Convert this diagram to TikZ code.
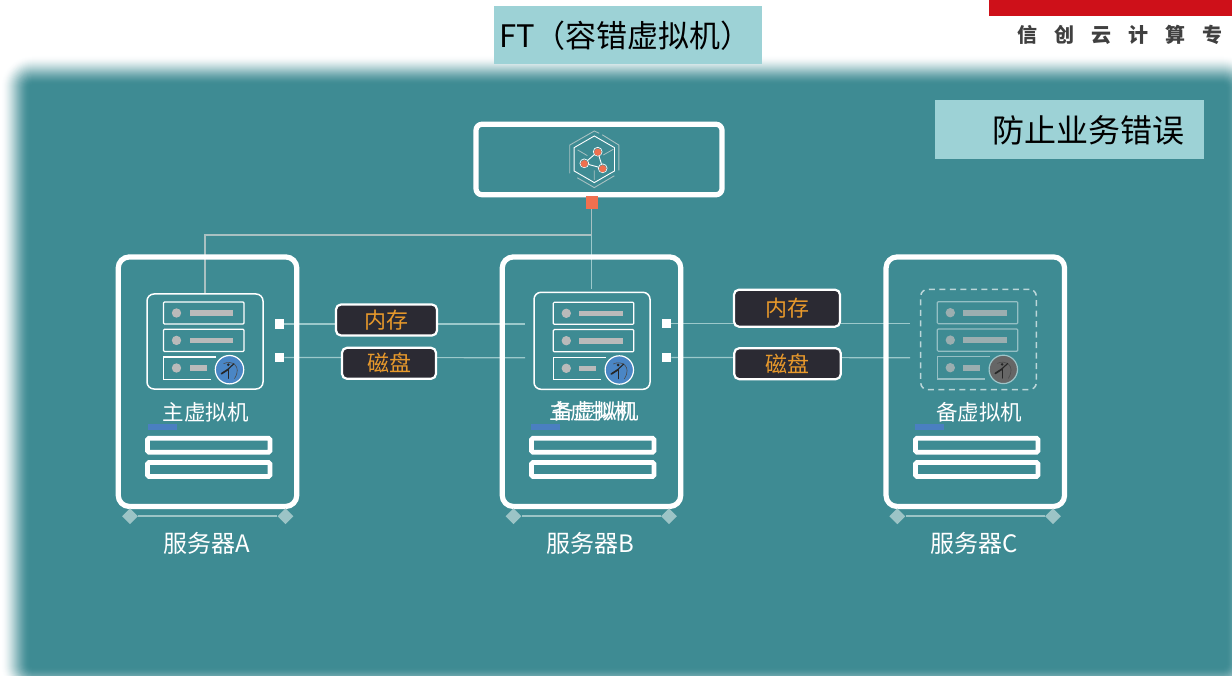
\documentclass[tikz,border=0pt]{standalone}
\usepackage{fontspec}
\setmainfont{Noto Sans CJK SC}
\usetikzlibrary{shapes.geometric}
\pgfdeclarelayer{backlayer}
\pgfdeclarelayer{connlayer}
\pgfsetlayers{backlayer,connlayer,main}
\definecolor{teal0}{HTML}{3E8B93}
\definecolor{capbox}{HTML}{9DD2D6}
\definecolor{linec}{HTML}{9CC9CB}
\definecolor{greyline}{HTML}{A9C1C2}
\definecolor{darkbox}{HTML}{2B2A33}
\definecolor{orangetxt}{HTML}{E8992B}
\definecolor{hubred}{HTML}{F0704F}
\definecolor{barblue}{HTML}{4A7FC1}
\definecolor{rowgrey}{HTML}{BABABA}
\definecolor{iconblue}{HTML}{4A86C5}
\definecolor{railc}{HTML}{9CC4C6}
\newcommand\fs[1]{\fontsize{#1}{#1}\selectfont}
\tikzset{
  x=1pt,y=-1pt,
  caption/.style={fill=capbox,inner sep=0,text=black},
  serverbox/.style={draw=white,line width=5.2pt,rounded corners=11pt,minimum width=178.5pt,minimum height=249.5pt,inner sep=0},
  vmbox/.style={draw=white,line width=1.5pt,rounded corners=7pt,inner sep=0},
  hubbox/.style={draw=white,line width=5.2pt,rounded corners=6pt,inner sep=0,minimum width=246pt,minimum height=70.5pt},
  storebox/.style={draw=white,line width=2.2pt,fill=darkbox,rounded corners=5pt,inner sep=0,text=orangetxt,font=\fs{22}},
  whitesq/.style={fill=white,inner sep=0,minimum size=9.5pt},
  conn/.style={draw=linec,line width=1.2pt},
  vmlabel/.style={text=white,inner sep=0,font=\fs{21.5}},
  srvlabel/.style={text=white,inner sep=0,font=\fs{24}},
  slot/.style={draw=white,line width=4.8pt,rounded corners=1.5pt,minimum width=122.5pt,minimum height=14pt,inner sep=0},
  tick/.style={fill=barblue,inner sep=0,minimum width=29pt,minimum height=6pt},
  railend/.style={diamond,aspect=1,fill=railc,inner sep=0,minimum size=16pt},
}
% rows and archer badge, origin = top-left corner of the first row
\newcommand\vmrows[2]{%
  \begin{scope}[shift={#1}]
    \draw[rowc,line width=1.2pt,rounded corners=1pt] (0,0) rectangle (80.5,22);
    \draw[rowc,line width=1.2pt,rounded corners=1pt] (0,27.3) rectangle (80.5,49.5);
    \draw[rowc,line width=1.2pt] (52.5,55) -- (0,55) -- (0,77.3) -- (47.5,77.3);
    \fill[dotc] (13,11) circle (4.7) (13,38.4) circle (4.7) (13,66) circle (4.7);
    \fill[dotc] (26,8.3) rectangle (69.5,14);
    \fill[dotc] (26,35.6) rectangle (69.5,41.3);
    \fill[dotc] (26,63.3) rectangle (43,69);
    \begin{scope}[shift={(66,67.7)}]
      \draw[draw=ringc,line width=1.2pt,fill=#2] (0,0) circle (14.2);
      \draw[black!70,line width=.6pt] (-6,-6) .. controls (2,-10) and (13,-4) .. (5,9);
      \fill[black!85] (-1.2,-5) circle (1.4);
      \draw[black!85,line width=1.7pt,line cap=round] (-8,4) -- (-1,-.5);
      \draw[black!85,line width=1.5pt,line cap=round] (-1,-.5) -- (-1,8.5);
      \draw[black!85,line width=1.1pt,line cap=round] (-1,-1) -- (4.5,-6);
    \end{scope}
  \end{scope}}
\begin{document}
\begin{tikzpicture}
\useasboundingbox (0,0) rectangle (1232,676);
\begin{pgfonlayer}{backlayer}
  \fill[white] (0,0) rectangle (1232,676);
  \foreach \i in {-15,...,15}{
    \pgfmathsetmacro\t{(\i+15)/30}
    \pgfmathsetmacro\p{100*\t*\t*(3-2*\t)}
    \pgfmathsetmacro\rr{max(1,18-\i)}
    \fill[teal0!\p!white,rounded corners=\rr pt] (15+\i,70+\i) rectangle (1241-\i,682-\i);
  }
\end{pgfonlayer}

% header
\node[fill={rgb,255:red,206;green,16;blue,25},inner sep=0,minimum width=243pt,minimum height=16pt,anchor=north west] (redbar) at (989,0) {};
\node[text=black!75,inner sep=0,font=\fs{20}\bfseries,anchor=west] (brand) at (1017,35) {信\hspace{17pt}创\hspace{17pt}云\hspace{17pt}计\hspace{17pt}算\hspace{17pt}专};
\node[caption,minimum width=268pt,minimum height=58pt,anchor=north west] (titlebox) at (494,6) {};
\node[inner sep=0,anchor=west,font=\fs{31}] (title) at (499,36) {FT（容错虚拟机）};
\node[caption,minimum width=269pt,minimum height=59pt,anchor=north west] (notebox) at (935,100) {};
\node[inner sep=0,font=\fs{32}] (note) at (1088,130) {防止业务错误};

% hub
\node[hubbox] (hub) at (599,159.5) {};
\node[fill=hubred,inner sep=0,minimum width=12pt,minimum height=13pt] (port) at (592,202.5) {};
\begin{scope}[shift={(594.3,159.3)}]
  \draw[white,line width=.9pt] (0,-23.3) -- (20.2,-11.65) -- (20.2,11.65) -- (0,23.3) -- (-20.2,11.65) -- (-20.2,-11.65) -- cycle;
  \draw[greyline,line width=.9pt] (8,-24.5) -- (24.6,-14.2) -- (24.6,11) (20,16.5) -- (0,28.3) -- (-17,18.5) (-24.6,14) -- (-24.6,-14.2) -- (0,-28.3) -- (5,-26);
  \draw[greyline,line width=.8pt] (-16.7,-9.4) -- (-7,-3.7) (19,-10) -- (9,-4.3) (0,11) -- (0,20.5);
  \draw[white,line width=.9pt] (3.4,-7.6) -- (-10,4) -- (8.4,9) -- cycle;
  \foreach \cx/\cy in {3.4/-7.6,-10/4,8.4/9}{
    \fill[teal0] (\cx,\cy) circle (4.6);
    \draw[white,line width=.7pt] (\cx,\cy) circle (4.4);
    \fill[hubred] (\cx,\cy+.4) circle (3.6);
  }
\end{scope}

% server A
\node[serverbox] (srva) at (207.5,381.7) {};
\node[vmbox,minimum width=116pt,minimum height=95pt] (vma) at (205,341.5) {};
\colorlet{rowc}{white}\colorlet{dotc}{rowgrey}\colorlet{ringc}{white}
\vmrows{(163.5,302)}{iconblue}
\node[vmlabel] (vmla) at (205.7,412) {主虚拟机};
\node[tick] (ticka) at (162.5,427) {};
\node[slot] (slota1) at (208.8,445.2) {};
\node[slot] (slota2) at (208.8,469.5) {};
\node[railend] (raila1) at (130,516.3) {};
\node[railend] (raila2) at (285.5,516.3) {};
\node[srvlabel] (srvla) at (206.5,543) {服务器A};

% server B
\node[serverbox] (srvb) at (591.5,381.7) {};
\node[vmbox,minimum width=116pt,minimum height=97pt] (vmb) at (592,340.8) {};
\vmrows{(553.3,302.3)}{iconblue}
\node[vmlabel] (vmlb1) at (592,411.5) {主虚拟机};
\node[vmlabel] (vmlb2) at (595.5,411.5) {备虚拟机};
\node[tick] (tickb) at (545.5,427) {};
\node[slot] (slotb1) at (592.7,445.2) {};
\node[slot] (slotb2) at (592.7,469.5) {};
\node[railend] (railb1) at (513.5,516.3) {};
\node[railend] (railb2) at (669,516.3) {};
\node[srvlabel] (srvlb) at (590.5,543) {服务器B};

% server C
\node[serverbox] (srvc) at (975.3,381.7) {};
\node[vmbox,dashed,dash pattern=on 6pt off 4.5pt,draw=white!65!teal0,minimum width=115.6pt,minimum height=100.4pt] (vmc) at (978.5,339.5) {};
\colorlet{rowc}{white!45!teal0}\colorlet{dotc}{rowgrey!75!teal0}\colorlet{ringc}{white!50!teal0}
\vmrows{(937.3,301.7)}{black!60}
\node[vmlabel] (vmlc) at (979.3,412) {备虚拟机};
\node[tick] (tickc) at (929.5,427) {};
\node[slot] (slotc1) at (976.7,445.2) {};
\node[slot] (slotc2) at (976.7,469.5) {};
\node[railend] (railc1) at (897.3,516.3) {};
\node[railend] (railc2) at (1053,516.3) {};
\node[srvlabel] (srvlc) at (974,543) {服务器C};

% storage
\node[storebox,minimum width=101pt,minimum height=31pt] (mema) at (386.5,320) {内存};
\node[storebox,minimum width=94pt,minimum height=31pt] (diska) at (389,363.3) {磁盘};
\node[storebox,minimum width=106pt,minimum height=37pt] (memb) at (787,308.2) {内存};
\node[storebox,minimum width=106.5pt,minimum height=31pt] (diskb) at (787.5,363.7) {磁盘};
\node[whitesq] (sqa1) at (279.5,324) {};
\node[whitesq] (sqa2) at (279.5,357.5) {};
\node[whitesq] (sqb1) at (666.5,323.3) {};
\node[whitesq] (sqb2) at (666.5,357.5) {};
\coordinate (enda1) at (525,324);
\coordinate (enda2) at (525,357.7);
\coordinate (endb1) at (910,323.3);
\coordinate (endb2) at (910,357.7);

\begin{pgfonlayer}{connlayer}
  \draw[greyline,line width=1.3pt] (port.south -| 591.3,0) -- (591.3,235) -- (205,235) -- (vma.north);
  \draw[conn] (591.3,235) -- ([yshift=3pt]vmb.north -| 591.3,0);
  \draw[conn] (sqa1) -- (enda1);
  \draw[conn] (sqa2) -- (enda2);
  \draw[conn] (sqb1) -- (endb1);
  \draw[conn] (sqb2) -- (endb2);
  \draw[railc,line width=2.2pt] (raila1) -- (raila2);
  \draw[railc,line width=2.2pt] (railb1) -- (railb2);
  \draw[railc,line width=2.2pt] (railc1) -- (railc2);
\end{pgfonlayer}
\end{tikzpicture}
\end{document}
